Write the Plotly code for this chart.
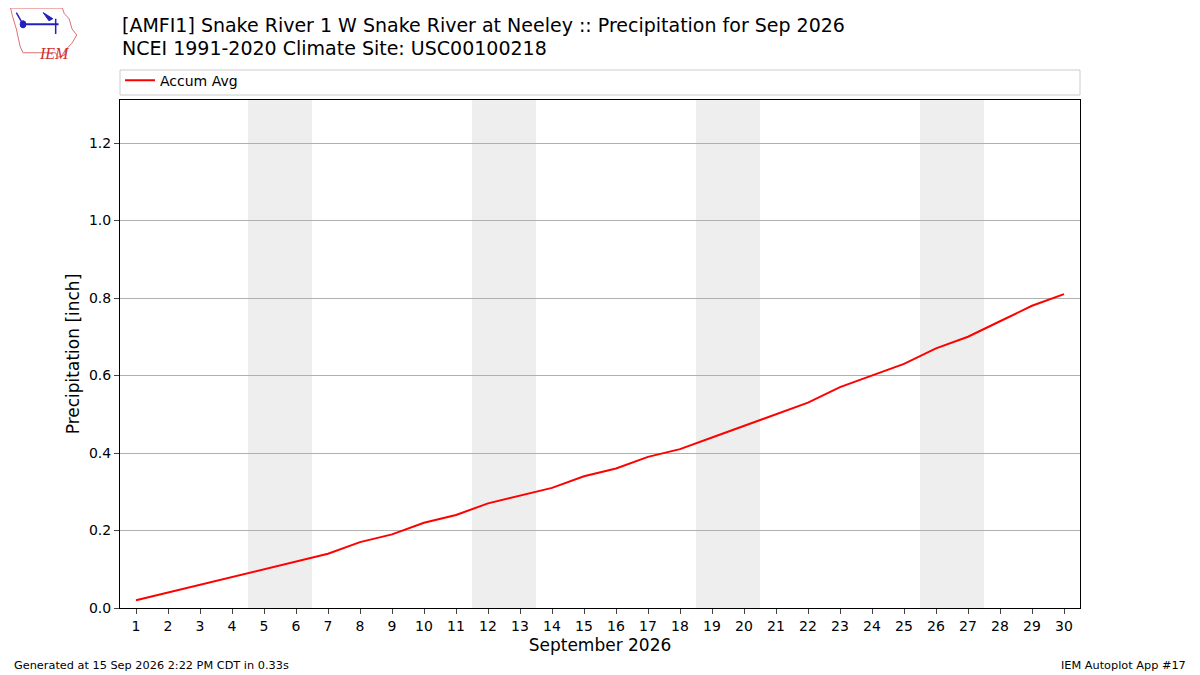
import plotly.graph_objects as go

# Data: accumulated average precipitation, Sep 2026
days = list(range(1, 31))
accum_avg = [0.02, 0.04, 0.06, 0.08, 0.10, 0.12, 0.14, 0.17, 0.19, 0.22,
             0.24, 0.27, 0.29, 0.31, 0.34, 0.36, 0.39, 0.41, 0.44, 0.47,
             0.50, 0.53, 0.57, 0.60, 0.63, 0.67, 0.70, 0.74, 0.78, 0.81]
weekend_starts = [5, 12, 19, 26]
y_ticks = [0.0, 0.2, 0.4, 0.6, 0.8, 1.0, 1.2]

title_l1 = "[AMFI1] Snake River 1 W Snake River at Neeley :: Precipitation for Sep 2026"
title_l2 = "NCEI 1991-2020 Climate Site: USC00100218"

FONT = "DejaVu Sans"

fig = go.Figure()

# weekend shading
for d in weekend_starts:
    fig.add_vrect(x0=d - 0.5, x1=d + 1.5, fillcolor="#eeeeee", line_width=0, layer="below")

fig.add_trace(go.Scatter(x=days, y=accum_avg, mode="lines", name="Accum Avg",
                         line=dict(color="red", width=2)))

# page body has an 8px margin, so the figure is 8px smaller than the window
fig.update_layout(
    width=1192, height=667,
    margin=dict(l=112, r=120, t=92, b=67),
    paper_bgcolor="white", plot_bgcolor="white",
    font=dict(family=FONT, size=14, color="black"),
    showlegend=True,
    legend=dict(x=0.0, y=1.038, xanchor="left", yanchor="middle", orientation="h",
                bgcolor="rgba(0,0,0,0)", font=dict(size=14, family=FONT),
                itemwidth=30),
)

# legend frame
fig.add_shape(type="rect", xref="paper", yref="paper", x0=0, x1=1, y0=1.0098, y1=1.059,
              line=dict(color="#cccccc", width=1), fillcolor="rgba(0,0,0,0)")

fig.update_xaxes(range=[0.5, 30.5], tickmode="array", tickvals=days,
                 ticktext=[str(d) for d in days], ticks="outside", ticklen=5,
                 showgrid=False, showline=True, linecolor="black", linewidth=1, mirror=True,
                 title=dict(text="September 2026", font=dict(size=17), standoff=6),
                 tickfont=dict(size=14), zeroline=False)
fig.update_yaxes(range=[0, 1.311], tickmode="array", tickvals=y_ticks,
                 ticktext=["%.1f" % v for v in y_ticks], ticks="outside", ticklen=5,
                 showgrid=True, gridcolor="#b0b0b0", gridwidth=1,
                 showline=True, linecolor="black", linewidth=1, mirror=True,
                 title=dict(text="Precipitation [inch]", font=dict(size=17), standoff=4),
                 tickfont=dict(size=14), zeroline=False)

# titles
fig.add_annotation(text=title_l1, xref="paper", yref="paper", x=0, y=1.0, xanchor="left",
                   yanchor="middle", showarrow=False, font=dict(size=19, family=FONT),
                   yshift=(608 - 25) - 508)
fig.add_annotation(text=title_l2, xref="paper", yref="paper", x=0, y=1.0, xanchor="left",
                   yanchor="middle", showarrow=False, font=dict(size=19, family=FONT),
                   yshift=(608 - 48) - 508)

# footer
fig.add_annotation(text="Generated at 15 Sep 2026 2:22 PM CDT in 0.33s", xref="paper",
                   yref="paper", x=-0.1125, y=0, xanchor="left", yanchor="middle",
                   showarrow=False, font=dict(size=11.3, family=FONT), yshift=-(665 - 608))
fig.add_annotation(text="IEM Autoplot App #17", xref="paper", yref="paper", x=1.1125, y=0,
                   xanchor="right", yanchor="middle", showarrow=False,
                   font=dict(size=11.3, family=FONT), yshift=-(665 - 608))

# rough IEM logo (Iowa outline, wind vane, letters)
fig.add_shape(type="path", xref="paper", yref="paper",
              path="M -0.114,1.181 L -0.060,1.181 L -0.058,1.170 L -0.053,1.160 L -0.050,1.140 "
                   "L -0.045,1.128 L -0.050,1.112 L -0.056,1.100 L -0.058,1.088 L -0.065,1.084 "
                   "L -0.067,1.093 L -0.101,1.093 L -0.104,1.105 L -0.108,1.140 L -0.112,1.165 Z",
              line=dict(color="#e07070", width=1), fillcolor="rgba(0,0,0,0)")
fig.add_annotation(text="<i>IEM</i>", xref="paper", yref="paper", x=-0.0865, y=1.113,
                   showarrow=False, font=dict(size=16, family="Liberation Serif", color="#d03030"))
fig.add_shape(type="line", xref="paper", yref="paper", x0=-0.101, x1=-0.064, y0=1.149, y1=1.149,
              line=dict(color="#2020c0", width=2))
fig.add_shape(type="line", xref="paper", yref="paper", x0=-0.101, x1=-0.108, y0=1.149, y1=1.172,
              line=dict(color="#2020c0", width=1.5))
fig.add_shape(type="circle", xref="paper", yref="paper", x0=-0.104, x1=-0.098, y0=1.142,
              y1=1.156, line=dict(color="#2020c0", width=1), fillcolor="#2020c0")
fig.add_shape(type="path", xref="paper", yref="paper",
              path="M -0.080,1.172 L -0.070,1.160 L -0.074,1.156 Z",
              line=dict(color="#2020c0", width=1), fillcolor="#2020c0")
fig.add_shape(type="line", xref="paper", yref="paper", x0=-0.067, x1=-0.067, y0=1.160, y1=1.130,
              line=dict(color="#2020c0", width=1.5))

fig.write_html("out.html")
